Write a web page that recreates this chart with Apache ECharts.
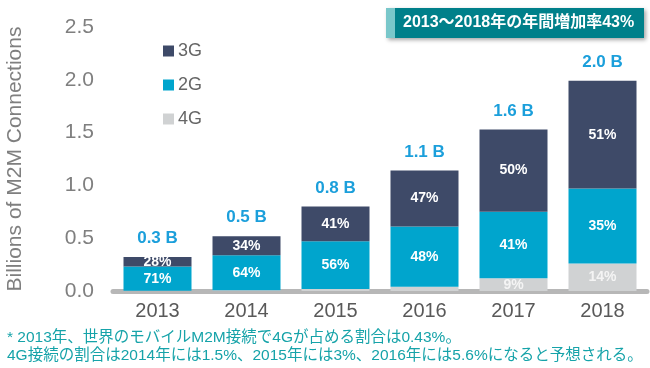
<!DOCTYPE html>
<html><head><meta charset="utf-8">
<script src="https://cdn.jsdelivr.net/npm/echarts@6/dist/echarts.min.js"></script>
<style>html,body{margin:0;padding:0;background:#fff}#c{width:650px;height:368px}</style>
</head><body><div id="c"></div>
<script>
var years = ['2013','2014','2015','2016','2017','2018'];
var g4 = [0.002, 0.008, 0.02, 0.04, 0.12, 0.26];
var g2 = [0.23, 0.33, 0.45, 0.57, 0.63, 0.71];
var g3 = [0.09, 0.18, 0.33, 0.53, 0.78, 1.02];
var pct3G = ['28%','34%','41%','47%','50%','51%'];
var pct2G = ['71%','64%','56%','48%','41%','35%'];
var pct4G = ['','','','','9%','14%'];
var totalLabels = ['0.3 B','0.5 B','0.8 B','1.1 B','1.6 B','2.0 B'];
var yTicks = [0, 0.5, 1.0, 1.5, 2.0, 2.5];
var titleText = '2013～2018年の年間増加率43%';
var note1 = '* 2013年、世界のモバイルM2M接続で4Gが占める割合は0.43%。';
var note2 = '4G接続の割合は2014年には1.5%、2015年には3%、2016年には5.6%になると予想される。';

var FONT = '"Liberation Sans", Arial, "Noto Sans CJK JP", sans-serif';
var JFONT = '"Liberation Sans", Arial, "Noto Sans CJK JP", sans-serif';
var chart = echarts.init(document.getElementById('c'));
function segLabel(arr, color) {
  return {show: true, position: 'inside', color: color || '#fff', fontWeight: 'bold', fontSize: 14, fontFamily: FONT,
    formatter: function (p) { return arr[p.dataIndex]; }};
}
chart.setOption({
  animation: false,
  textStyle: {fontFamily: FONT},
  grid: {left: 113, right: 3, top: 27, bottom: 77, containLabel: false, outerBoundsMode: 'none'},
  legend: {
    orient: 'vertical', left: 158, top: 37, itemWidth: 11, itemHeight: 11, itemGap: 16,
    icon: 'rect', data: ['3G', '2G', '4G'],
    textStyle: {fontSize: 18, color: '#666', fontFamily: FONT, padding: [0, 0, 0, -1]}
  },
  xAxis: {
    type: 'category', data: years,
    axisLine: {lineStyle: {color: '#b7b7b7', width: 5}},
    axisTick: {show: false},
    axisLabel: {fontSize: 20, color: '#595959', margin: 10, fontFamily: FONT}
  },
  yAxis: {
    type: 'value', min: 0, max: 2.5, interval: 0.5,
    name: 'Billions of M2M Connections', nameLocation: 'middle', nameGap: 87,
    nameTextStyle: {fontSize: 21, color: '#7f7f7f', fontFamily: FONT},
    axisLine: {show: false}, axisTick: {show: false}, splitLine: {show: false},
    axisLabel: {fontSize: 21, color: '#7f7f7f', margin: 19, fontFamily: FONT,
      formatter: function (v) { return yTicks.indexOf(v) >= 0 ? v.toFixed(1) : ''; }}
  },
  series: [
    {name: '4G', type: 'bar', stack: 's', barWidth: 68, data: g4, itemStyle: {color: '#d0d2d3'}, label: segLabel(pct4G, '#f4f4f4')},
    {name: '2G', type: 'bar', stack: 's', barWidth: 68, data: g2, itemStyle: {color: '#00a5cd'}, label: segLabel(pct2G)},
    {name: '3G', type: 'bar', stack: 's', barWidth: 68, data: g3, itemStyle: {color: '#3e4a68'}, label: segLabel(pct3G)},
    {name: 'total', type: 'bar', stack: 's', barWidth: 68, data: [0,0,0,0,0,0], itemStyle: {color: 'transparent'},
      label: {show: true, position: 'top', distance: 10, color: '#1b9fdb', fontWeight: 'bold', fontSize: 17, fontFamily: FONT,
        formatter: function (p) { return totalLabels[p.dataIndex]; }}}
  ],
  graphic: [
    {type: 'rect', shape: {x: 386, y: 8, width: 258, height: 30},
      style: {fill: '#00808a', shadowBlur: 4, shadowOffsetX: 2, shadowOffsetY: 2, shadowColor: 'rgba(0,0,0,0.35)'}},
    {type: 'rect', shape: {x: 386, y: 8, width: 9, height: 30}, style: {fill: '#79c7ca'}},
    {type: 'text', x: 403, y: 23, style: {text: titleText, fill: '#fff', fontSize: 16, fontWeight: 'bold', fontFamily: JFONT, textVerticalAlign: 'middle'}},
    {type: 'text', x: 7, y: 338, style: {text: note1, fill: '#16a3a9', fontSize: 15.5, fontFamily: JFONT, textVerticalAlign: 'middle'}},
    {type: 'text', x: 7, y: 356, style: {text: note2, fill: '#16a3a9', fontSize: 15.5, fontFamily: JFONT, textVerticalAlign: 'middle'}}
  ]
});
</script></body></html>
